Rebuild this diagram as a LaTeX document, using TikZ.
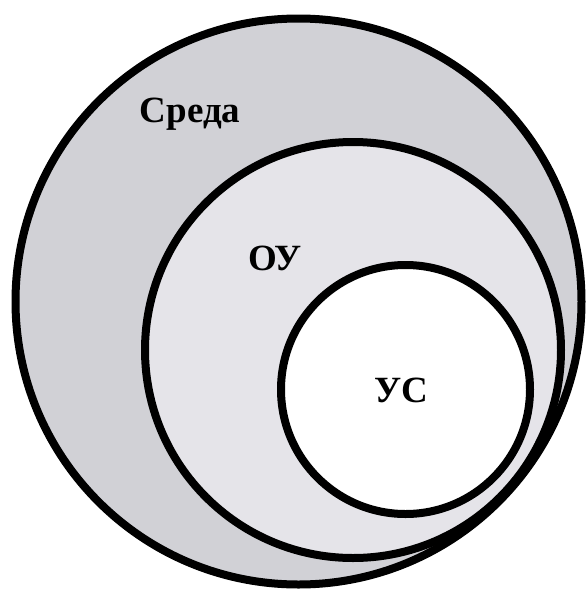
\documentclass[tikz,border=0pt]{standalone}
\usepackage{fontspec}
\setmainfont{Liberation Serif}
\usepackage{tikz}

\definecolor{sredafill}{RGB}{209,209,214}
\definecolor{oufill}{RGB}{229,228,233}

\tikzset{
  ring/.style={draw=black, line width=8pt},
  lbl/.style={font=\bfseries\fontsize{37}{44}\selectfont, inner sep=0pt}
}

\begin{document}
\begin{tikzpicture}[x=1pt,y=1pt]
 \useasboundingbox (0,0) rectangle (588,-595);

 % outer, middle, inner circles
 \draw[ring, fill=sredafill] (298.5,-301.5) circle (283);
 \draw[ring, fill=oufill] (353,-350) circle (208);
 \draw[ring, fill=white] (405.5,-389.5) circle (124.5);

 \node[lbl] (sreda) at (190,-114) {Среда};
 \node[lbl] (ou) at (275,-258) {ОУ};
 \node[lbl] (us) at (401,-390) {УС};
\end{tikzpicture}
\end{document}
